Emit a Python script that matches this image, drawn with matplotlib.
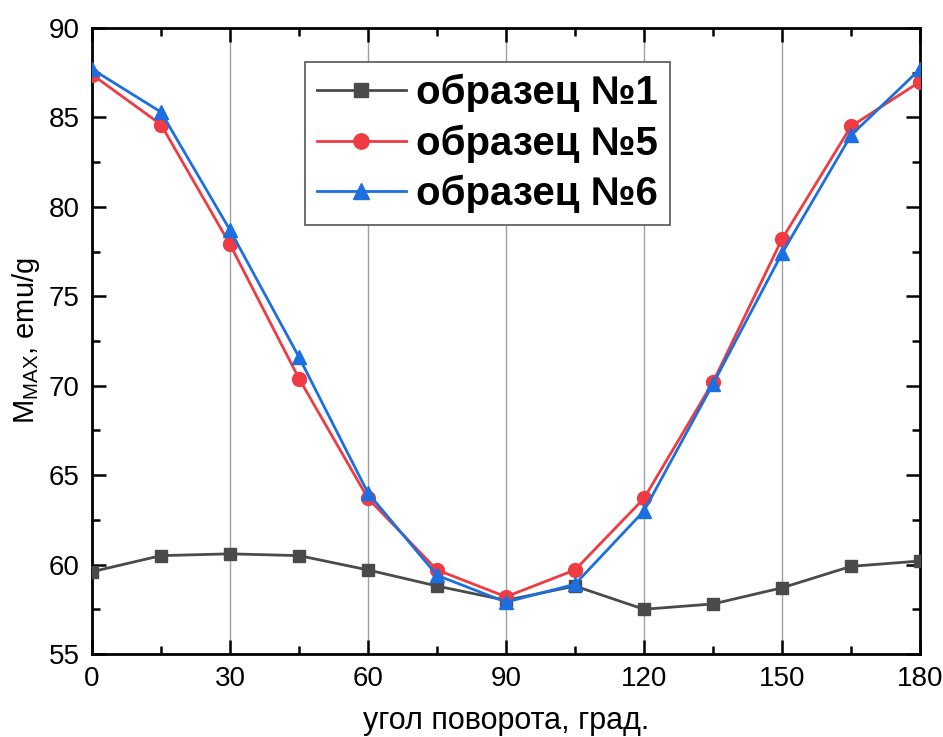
import numpy as np
import matplotlib
matplotlib.use("Agg")
import matplotlib.pyplot as plt
from matplotlib.ticker import MultipleLocator

plt.rcParams['font.family'] = ['Liberation Sans', 'DejaVu Sans']

# rotation angle, deg
angle = [0, 15, 30, 45, 60, 75, 90, 105, 120, 135, 150, 165, 180]

# M_MAX, emu/g
sample1 = [59.6, 60.5, 60.6, 60.5, 59.7, 58.8, 58.0, 58.8, 57.5, 57.8, 58.7, 59.9, 60.2]
sample5 = [87.4, 84.6, 77.9, 70.4, 63.7, 59.7, 58.2, 59.7, 63.7, 70.2, 78.2, 84.5, 87.0]
sample6 = [87.7, 85.3, 78.7, 71.6, 64.0, 59.4, 57.9, 58.9, 63.0, 70.1, 77.4, 84.0, 87.7]

labels = ['образец №1', 'образец №5', 'образец №6']

fig = plt.figure(figsize=(9.43, 7.37), dpi=100)
ax = fig.add_axes([92 / 943, 1 - 654 / 737, 828 / 943, 626 / 737])

ax.plot(angle, sample1, '-s', color='#4a4a4a', lw=2, ms=9, label=labels[0], zorder=3)
ax.plot(angle, sample5, '-o', color='#ef3b41', lw=2, ms=10, label=labels[1], zorder=4)
ax.plot(angle, sample6, '-^', color='#1c6fe0', lw=2, ms=10, label=labels[2], zorder=5)

ax.set_xlim(0, 180)
ax.set_ylim(55, 90)
ax.xaxis.set_major_locator(MultipleLocator(30))
ax.xaxis.set_minor_locator(MultipleLocator(15))
ax.yaxis.set_major_locator(MultipleLocator(5))
ax.yaxis.set_minor_locator(MultipleLocator(2.5))
ax.grid(True, axis='x', which='major', color='#a0a0a0', lw=1, zorder=0)

ax.tick_params(which='both', direction='in', top=True, right=True,
               width=1.8, labelsize=20, pad=9)
ax.tick_params(which='major', length=10)
ax.tick_params(which='minor', length=6)
for sp in ax.spines.values():
    sp.set_linewidth(2)

ax.set_xlabel('угол поворота, град.', fontsize=22, labelpad=10)
ax.set_ylabel('M$_{\\mathregular{MAX}}$, emu/g', fontsize=21, labelpad=5)

leg = ax.legend(loc='upper left', bbox_to_anchor=(213 / 828, 1 - 34 / 626),
                prop={'weight': 'bold', 'size': 29}, fancybox=False,
                edgecolor='#555555', framealpha=1, handlelength=2.2,
                borderpad=0.3, labelspacing=0.3, handletextpad=0.25,
                borderaxespad=0, markerscale=1.1)
leg.get_frame().set_linewidth(1.2)

fig.savefig('out.png', dpi=100)
